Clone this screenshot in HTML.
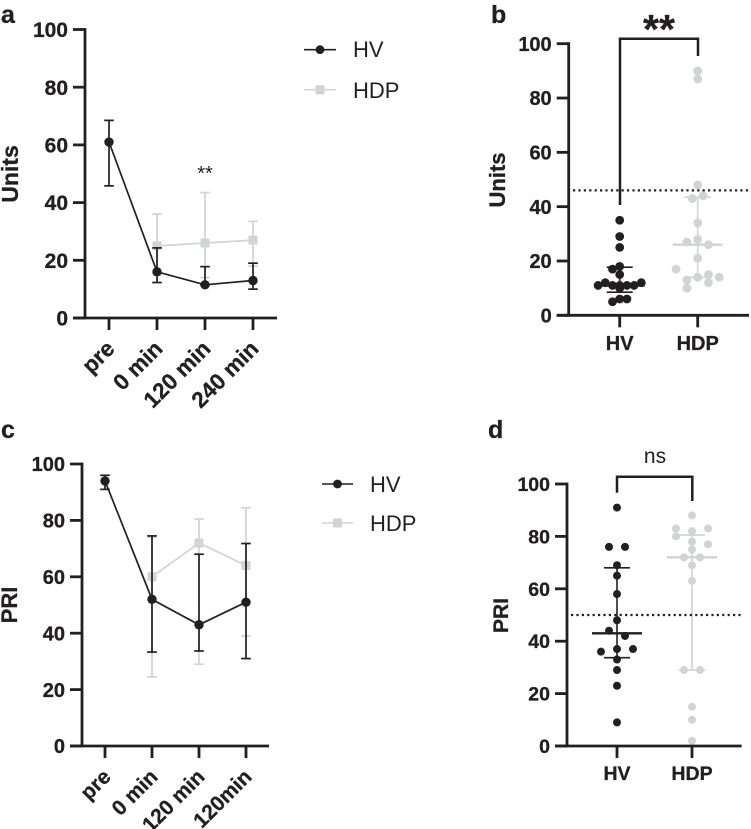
<!DOCTYPE html>
<html lang="en">
<head>
<meta charset="utf-8">
<title>HV and HDP Units and PRI</title>
<style>
html,body{margin:0;padding:0;background:#fff;}
svg{display:block;font-family:"Liberation Sans",Arial,sans-serif;}
text{fill:#231f20;}
text[font-weight="700"]{stroke:#231f20;stroke-width:.3px;}
</style>
</head>
<body>
<svg id="fig" xmlns="http://www.w3.org/2000/svg" width="751" height="829" viewBox="0 0 751 829">
  <rect x="0" y="0" width="751" height="829" fill="#fff"/>
  <text x="1" y="23" font-size="25" font-weight="700">a</text>
  <text x="491" y="23" font-size="25" font-weight="700">b</text>
  <text x="1" y="438" font-size="25" font-weight="700">c</text>
  <text x="488" y="438" font-size="25" font-weight="700">d</text>

  <text transform="translate(18,174) rotate(-90)" text-anchor="middle" font-size="23" font-weight="700">Units</text>
  <text transform="translate(505,180) rotate(-90)" text-anchor="middle" font-size="22" font-weight="700">Units</text>
  <text transform="translate(17,605) rotate(-90)" text-anchor="middle" font-size="22" font-weight="700">PRI</text>
  <text transform="translate(508,615.5) rotate(-90)" text-anchor="middle" font-size="21" font-weight="700">PRI</text>

  <text x="205" y="180" text-anchor="middle" font-size="20">**</text>
  <text x="659" y="43" text-anchor="middle" font-size="41" font-weight="700">**</text>
  <text x="655" y="463" text-anchor="middle" font-size="21">ns</text>

  <g>
    <line x1="304" x2="336" y1="49.7" y2="49.7" stroke="#231f20" stroke-width="1.6"/>
    <circle cx="320" cy="49.7" r="4.4" fill="#231f20"/>
    <text x="353" y="57" font-size="22">HV</text>
    <line x1="304" x2="336" y1="89.7" y2="89.7" stroke="#d1d3d4" stroke-width="1.6"/>
    <rect x="315.5" y="85.2" width="9" height="9" fill="#d1d3d4"/>
    <text x="353" y="98" font-size="22">HDP</text>
  </g>
  <g>
    <line x1="322" x2="353" y1="484" y2="484" stroke="#231f20" stroke-width="1.6"/>
    <circle cx="337.5" cy="484" r="4.4" fill="#231f20"/>
    <text x="370" y="492" font-size="22">HV</text>
    <line x1="322" x2="353" y1="523" y2="523" stroke="#d1d3d4" stroke-width="1.6"/>
    <rect x="333" y="518.5" width="9" height="9" fill="#d1d3d4"/>
    <text x="370" y="531" font-size="22">HDP</text>
  </g>
</svg>
<script>
const yTickValues = [0, 20, 40, 60, 80, 100];
const timeLabelsA = ['pre', '0 min', '120 min', '240 min'];
const timeLabelsC = ['pre', '0 min', '120 min', '120min'];
const groupLabels = ['HV', 'HDP'];

const aHvMedian = [61, 16, 11.5, 13];
const aHvLow = [45.8, 12.3, 11.5, 10];
const aHvHigh = [68.5, 24.3, 17.8, 19];
const aHdpMedian = [null, 25, 26, 27];
const aHdpLow = [null, 15, 14, 18];
const aHdpHigh = [null, 36, 43.5, 33.5];

const cHvMedian = [94, 52, 43, 51];
const cHvLow = [91, 33.3, 33.7, 31];
const cHvHigh = [96, 74.5, 68, 71.8];
const cHdpMedian = [null, 60, 72, 64];
const cHdpLow = [null, 24.5, 29, 39];
const cHdpHigh = [null, 74, 80.5, 84.5];

const bHvValues = [35, 29, 25, 18, 17, 15, 12, 12, 11, 11, 11, 11, 11, 10, 6, 6, 5];
const bHvSlots = [0, 0, 0, 0, -1, 0, -2, 3, -3, -1, 0, 1, 2, 0, 0, 1, -1];
const bHvSummary = [8.5, 11, 17.7];
const bHdpValues = [90, 87, 48, 44, 43, 34, 28, 27, 26, 21, 17, 15, 14, 14, 13, 12, 10];
const bHdpSlots = [0, 0, 0, 1, -1, 0, 0, -2, 2, 0, -4, 2, 0, 4, -2, 2, -2];
const bHdpSummary = [14, 26, 43.5];
const bCutoff = 46;

const dHvValues = [91, 76, 76, 69, 65, 58, 48, 44, 42, 37, 37, 36, 33, 29, 23, 9];
const dHvSlots = [0, -1, 1, 0, 0, 0, 0, -1, 1, 0, 2, -2, 0, 0, 0, 0];
const dHvSummary = [33.7, 43, 68];
const dHdpValues = [88, 83, 83, 82, 80, 78, 77, 75, 72, 72, 69, 63, 29, 29, 15, 10, 2];
const dHdpSlots = [0, -2, 2, 0, -2, 0, 2, 0, -1, 1, 0, 0, -1, 1, 0, 0, 0];
const dHdpSummary = [29, 72, 80.5];
const dCutoff = 50;

const SVGNS = 'http://www.w3.org/2000/svg';
const DARK = '#231f20';
const LIGHT = '#d1d3d4';
const fig = document.getElementById('fig');

function linear(d0, d1, r0, r1) {
  return function (v) { return r0 + (v - d0) * (r1 - r0) / (d1 - d0); };
}
function mk(tag, attrs, parent) {
  const el = document.createElementNS(SVGNS, tag);
  for (const k in attrs) el.setAttribute(k, attrs[k]);
  parent.appendChild(el);
  return el;
}
function seg(parent, x1, y1, x2, y2, color, w, name) {
  const el = mk('line', {x1: x1, y1: y1, x2: x2, y2: y2, stroke: color, 'stroke-width': w}, parent);
  
  
  return el;
}
function panelGroup(name) {
  const g = mk('g', {}, fig);
  
  
  return g;
}
function drawYAxis(g, p, y, id) {
  seg(g, p.axisX, y(100) - 1.4, p.axisX, y(0) + 1.4, DARK, 2.8, 'y-axis-' + id);
  seg(g, p.axisX - 12, y(0), p.right, y(0), DARK, 2.8, 'x-axis-' + id);
  yTickValues.forEach(function (t) {
    seg(g, p.axisX - 12, y(t), p.axisX, y(t), DARK, 2.8, 'y-tick-' + id + '-' + t);
    const label = mk('text', {x: p.axisX - 17, y: y(t) + p.tickFont * 0.36, 'text-anchor': 'end', 'font-size': p.tickFont, 'font-weight': 700}, g);
    label.textContent = t;
    
    
  });
}
function drawSeries(g, x, y, med, low, high, color, kind, id) {
  const pts = [];
  med.forEach(function (v, i) { if (v !== null) pts.push(x(i) + ',' + y(v)); });
  med.forEach(function (v, i) {
    if (v === null) return;
    seg(g, x(i), y(low[i]), x(i), y(high[i]), color, 1.7, 'error-stem-' + id);
    seg(g, x(i) - 4.8, y(low[i]), x(i) + 4.8, y(low[i]), color, 1.7, 'error-cap-low-' + id);
    seg(g, x(i) - 4.8, y(high[i]), x(i) + 4.8, y(high[i]), color, 1.7, 'error-cap-high-' + id);
  });
  const line = mk('polyline', {points: pts.join(' '), fill: 'none', stroke: color, 'stroke-width': 1.7}, g);
  
  
  med.forEach(function (v, i) {
    if (v === null) return;
    let m;
    if (kind === 'circle') {
      m = mk('circle', {cx: x(i), cy: y(v), r: 4.7, fill: color}, g);
    } else {
      m = mk('rect', {x: x(i) - 4.5, y: y(v) - 4.5, width: 9, height: 9, fill: color}, g);
    }
    
    
  });
}
function drawLinePanel(p, labels, hv, hdp, id) {
  const g = panelGroup('chart-' + id);
  const y = linear(0, 100, p.y0, p.y100);
  const x = linear(0, 3, p.x0, p.x3);
  drawSeries(g, x, y, hdp[0], hdp[1], hdp[2], LIGHT, 'square', id + '-hdp');
  drawSeries(g, x, y, hv[0], hv[1], hv[2], DARK, 'circle', id + '-hv');
  drawYAxis(g, p, y, id);
  labels.forEach(function (l, i) {
    seg(g, x(i), p.y0, x(i), p.y0 + 12, DARK, 2.8, 'x-tick-' + id + '-' + i);
    const tx = x(i) + 7;
    const ty = p.y0 + 32;
    const label = mk('text', {transform: 'translate(' + tx + ',' + ty + ') rotate(-45)', 'text-anchor': 'end', 'font-size': p.rotFont, 'font-weight': 700}, g);
    label.textContent = l;
    
    
  });
}
function drawDotGroup(g, cx, y, vals, slots, summary, color, step, r, id) {
  seg(g, cx, y(summary[0]), cx, y(summary[2]), color, 1.6, 'iqr-stem-' + id);
  seg(g, cx - 13, y(summary[0]), cx + 13, y(summary[0]), color, 1.6, 'iqr-low-' + id);
  seg(g, cx - 13, y(summary[2]), cx + 13, y(summary[2]), color, 1.6, 'iqr-high-' + id);
  seg(g, cx - 25, y(summary[1]), cx + 25, y(summary[1]), color, 2.4, 'median-' + id);
  vals.forEach(function (v, i) {
    const c = mk('circle', {cx: cx + slots[i] * step, cy: y(v), r: r, fill: color}, g);
    
    
  });
}
function drawDotPanel(p, hv, hdp, cutoff, id) {
  const g = panelGroup('chart-' + id);
  const y = linear(0, 100, p.y0, p.y100);
  const x = linear(0, 1, p.x0, p.x1);
  drawDotGroup(g, x(1), y, hdp[0], hdp[1], hdp[2], LIGHT, p.stepHdp, p.r, id + '-hdp');
  drawDotGroup(g, x(0), y, hv[0], hv[1], hv[2], DARK, p.stepHv, p.r, id + '-hv');
  const dot = seg(g, p.dotFrom, y(cutoff), p.dotTo, y(cutoff), DARK, 2.2, 'cutoff-line-' + id);
  dot.setAttribute('stroke-dasharray', '2.2 3.2');
  drawYAxis(g, p, y, id);
  groupLabels.forEach(function (l, i) {
    seg(g, x(i), p.y0, x(i), p.y0 + 12, DARK, 2.8, 'x-tick-' + id + '-' + i);
    const label = mk('text', {x: x(i), y: p.labelY, 'text-anchor': 'middle', 'font-size': p.tickFont, 'font-weight': 700}, g);
    label.textContent = l;
    
    
  });
  const br = mk('polyline', {points: p.bracket, fill: 'none', stroke: DARK, 'stroke-width': 2.5}, g);
  
  
}

drawLinePanel({axisX: 85, right: 277, y0: 318, y100: 29.5, x0: 109, x3: 253, tickFont: 21, rotFont: 22.5}, timeLabelsA,
  [aHvMedian, aHvLow, aHvHigh], [aHdpMedian, aHdpLow, aHdpHigh], 'a');
drawLinePanel({axisX: 82, right: 269, y0: 746, y100: 464, x0: 105, x3: 246, tickFont: 20, rotFont: 21}, timeLabelsC,
  [cHvMedian, cHvLow, cHvHigh], [cHdpMedian, cHdpLow, cHdpHigh], 'c');
drawDotPanel({axisX: 568.7, right: 749, y0: 315.3, y100: 43.7, x0: 619.7, x1: 697.7, tickFont: 20, labelY: 350,
  stepHv: 7.2, stepHdp: 5.4, r: 4.4, dotFrom: 573, dotTo: 750,
  bracket: '620,205 620,38.7 698,38.7 698,56'},
  [bHvValues, bHvSlots, bHvSummary], [bHdpValues, bHdpSlots, bHdpSummary], bCutoff, 'b');
drawDotPanel({axisX: 567, right: 741.6, y0: 746, y100: 484, x0: 617, x1: 692, tickFont: 19.5, labelY: 780,
  stepHv: 8, stepHdp: 8, r: 4, dotFrom: 571, dotTo: 743,
  bracket: '617,492.7 617,476.7 692.3,476.7 692.3,501'},
  [dHvValues, dHvSlots, dHvSummary], [dHdpValues, dHdpSlots, dHdpSummary], dCutoff, 'd');
</script>
</body>
</html>
